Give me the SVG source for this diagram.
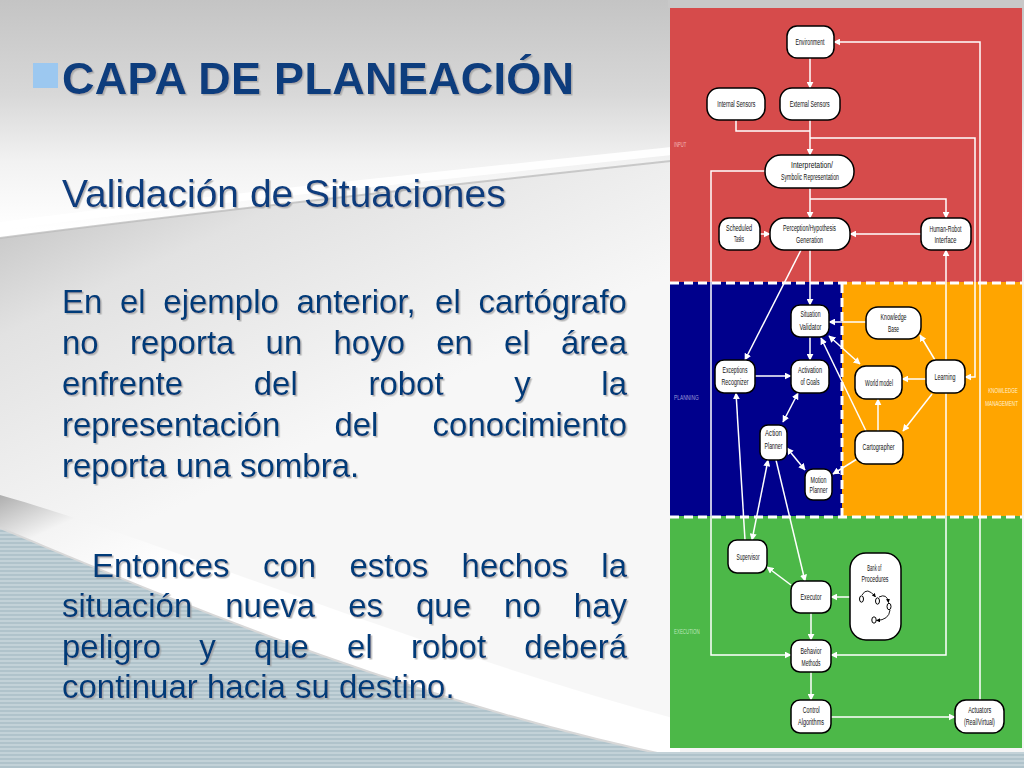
<svg xmlns="http://www.w3.org/2000/svg" width="1024" height="768" viewBox="0 0 1024 768">
<defs>
<style>
.nd{fill:#fff;stroke:#000;stroke-width:1.5}
.lb{font-family:"Liberation Sans",Arial,sans-serif;font-size:8.5px;fill:#111;text-anchor:middle}
.zl{font-family:"Liberation Sans",Arial,sans-serif;font-size:7px}
.cn{fill:none;stroke:#fff;stroke-width:1.5}
.dash{fill:none;stroke:#fff;stroke-width:3;stroke-dasharray:9 5}
.body{font-family:"Liberation Sans",Arial,sans-serif;font-size:33px;fill:#063a78}
.ttl{font-family:"Liberation Sans",Arial,sans-serif;fill:#0a3c7d}
</style>
<marker id="a" viewBox="0 0 10 10" refX="9" refY="5" markerWidth="7" markerHeight="7" markerUnits="userSpaceOnUse" orient="auto-start-reverse"><path d="M0,0 L10,5 L0,10 Z" fill="#fff"/></marker>
<marker id="ab" viewBox="0 0 10 10" refX="9" refY="5" markerWidth="4" markerHeight="4" markerUnits="userSpaceOnUse" orient="auto"><path d="M0,0 L10,5 L0,10 Z" fill="#000"/></marker>
<linearGradient id="gTop" x1="0" y1="0" x2="0" y2="1">
<stop offset="0" stop-color="#c4c4c4"/><stop offset="0.35" stop-color="#d8d8d8"/><stop offset="0.6" stop-color="#f2f2f2"/><stop offset="0.85" stop-color="#ffffff"/><stop offset="1" stop-color="#ffffff"/>
</linearGradient>
<linearGradient id="gMid" gradientUnits="userSpaceOnUse" x1="0" y1="200" x2="150" y2="520">
<stop offset="0" stop-color="#c2c2c2"/><stop offset="0.35" stop-color="#e2e2e2"/><stop offset="1" stop-color="#f7f7f7"/>
</linearGradient>
<linearGradient id="gSheet" gradientUnits="userSpaceOnUse" x1="0" y1="490" x2="60" y2="620">
<stop offset="0" stop-color="#a8a8a8"/><stop offset="0.4" stop-color="#f4f4f4"/><stop offset="1" stop-color="#ffffff"/>
</linearGradient>
<pattern id="stripes" width="8" height="4" patternUnits="userSpaceOnUse"><rect width="8" height="4" fill="#b0c3cb"/><rect width="8" height="2" fill="#c3d2d8"/></pattern>
<filter id="sh" x="-5%" y="-20%" width="110%" height="140%"><feDropShadow dx="1.5" dy="1.5" stdDeviation="0.6" flood-color="#9a9a9a" flood-opacity="0.7"/></filter>
</defs>

<g id="background">
<rect x="0" y="0" width="1024" height="768" fill="#f4f4f4"/>
<rect x="0" y="0" width="1024" height="270" fill="url(#gTop)"/>
<path d="M0,238 C200,212 420,188 680,160 L680,768 L0,768 Z" fill="url(#gMid)"/>
<path d="M0,226 C200,200 420,178 680,150" fill="none" stroke="#ffffff" stroke-width="8" stroke-opacity="0.9"/>
<path d="M0,238 C200,212 420,188 680,160" fill="none" stroke="#b8b8b8" stroke-width="2" stroke-opacity="0.7"/>
<path d="M0,495 C160,540 420,650 680,720 L680,768 L0,768 Z" fill="url(#gSheet)"/>
<path d="M0,528 C150,590 400,700 680,758 L680,768 L0,768 Z" fill="url(#stripes)"/>
<path d="M0,528 C150,590 400,700 680,758" fill="none" stroke="#d8d8d8" stroke-width="2"/>
<rect x="0" y="752" width="1024" height="16" fill="url(#stripes)"/>
<rect x="668" y="0" width="356" height="8" fill="#c8c8c8"/>
</g>

<g id="text-left">
<rect x="33" y="63" width="25" height="25" fill="#9cc8f0"/>
<text class="ttl" x="62" y="94" font-size="45" font-weight="bold" textLength="512" filter="url(#sh)">CAPA DE PLANEACIÓN</text>
<text class="ttl" x="62" y="207" font-size="39" filter="url(#sh)">Validación de Situaciones</text>
<g class="body" filter="url(#sh)">
<text y="313"><tspan x="62">En</tspan> <tspan x="120">el</tspan> <tspan x="163.3">ejemplo</tspan> <tspan x="296.5">anterior,</tspan> <tspan x="435.1">el</tspan> <tspan x="478.4">cartógrafo</tspan></text>
<text y="354"><tspan x="62">no</tspan> <tspan x="129.9">reporta</tspan> <tspan x="265.6">un</tspan> <tspan x="333.5">hoyo</tspan> <tspan x="436.2">en</tspan> <tspan x="504.1">el</tspan> <tspan x="561">área</tspan></text>
<text y="395"><tspan x="62">enfrente</tspan> <tspan x="253.7">del</tspan> <tspan x="368.4">robot</tspan> <tspan x="514.2">y</tspan> <tspan x="601.3">la</tspan></text>
<text y="436"><tspan x="62">representación</tspan> <tspan x="334.4">del</tspan> <tspan x="432.6">conocimiento</tspan></text>
<text x="62" y="477">reporta una sombra.</text>
<text y="577"><tspan x="92">Entonces</tspan> <tspan x="262.9">con</tspan> <tspan x="349.4">estos</tspan> <tspan x="461.6">hechos</tspan> <tspan x="601.3">la</tspan></text>
<text y="617"><tspan x="62">situación</tspan> <tspan x="225.2">nueva</tspan> <tspan x="348.2">es</tspan> <tspan x="416">que</tspan> <tspan x="504.1">no</tspan> <tspan x="573.8">hay</tspan></text>
<text y="658"><tspan x="62">peligro</tspan> <tspan x="199.2">y</tspan> <tspan x="253.9">que</tspan> <tspan x="347.1">el</tspan> <tspan x="410.9">robot</tspan> <tspan x="524.3">deberá</tspan></text>
<text x="62" y="698">continuar hacia su destino.</text>
</g>
</g>

<g id="regions">
<rect x="670" y="8" width="352" height="274" fill="#d64b4b"/>
<rect x="670" y="282" width="172" height="234" fill="#00008c"/>
<rect x="842" y="282" width="180" height="234" fill="#ffa500"/>
<rect x="670" y="516" width="352" height="232" fill="#4cb848"/>
<path class="dash" d="M670,283 H1022"/>
<path class="dash" d="M670,517 H1022"/>
<path class="dash" d="M842,284 V516" stroke-dasharray="7 4" stroke-width="2.5"/>
<text class="zl" x="674" y="146.5" fill="#f3b6b6" textLength="12.3" lengthAdjust="spacingAndGlyphs">INPUT</text>
<text class="zl" x="674" y="399.8" fill="#9a9ad8" textLength="24.7" lengthAdjust="spacingAndGlyphs">PLANNING</text>
<g transform="translate(1003,0) scale(0.7,1)" fill="#fff0d2" font-family="Liberation Sans, Arial, sans-serif" font-size="6.5" text-anchor="middle">
<text x="0" y="393.5">KNOWLEDGE</text>
<text x="-2" y="405.8">MANAGEMENT</text>
</g>
<text class="zl" x="674" y="634.2" fill="#bde6bb" textLength="25.7" lengthAdjust="spacingAndGlyphs">EXECUTION</text>
</g>

<g id="connectors">
<path class="cn" marker-end="url(#a)" d="M810,58 V88"/>
<path class="cn" d="M736,120 V131 H810"/>
<path class="cn" marker-end="url(#a)" d="M810,120 V155"/>
<path class="cn" marker-end="url(#a)" d="M810,138 H975 V377 H965"/>
<path class="cn" marker-end="url(#a)" d="M980,700 V42 H834"/>
<path class="cn" marker-end="url(#a)" d="M765,171 H711 V655 H791"/>
<path class="cn" marker-end="url(#a)" d="M810,188 V218"/>
<path class="cn" marker-end="url(#a)" d="M810,199 H946 V218"/>
<path class="cn" marker-end="url(#a)" d="M760,234 H770"/>
<path class="cn" marker-end="url(#a)" d="M921,234 H850"/>
<path class="cn" marker-start="url(#a)" marker-end="url(#a)" d="M831,655 H946 V250"/>
<path class="cn" marker-end="url(#a)" d="M801,250 L745,360"/>
<path class="cn" marker-end="url(#a)" d="M810,250 V305"/>
<path class="cn" marker-end="url(#a)" d="M866,322 H829"/>
<path class="cn" marker-end="url(#a)" d="M810,337 V360"/>
<path class="cn" marker-end="url(#a)" d="M755,376 H791"/>
<path class="cn" marker-start="url(#a)" marker-end="url(#a)" d="M829,336 L860,364"/>
<path class="cn" marker-end="url(#a)" d="M866,431 L821,338"/>
<path class="cn" marker-end="url(#a)" d="M926,379 H902"/>
<path class="cn" marker-end="url(#a)" d="M935,360 L920,335"/>
<path class="cn" marker-end="url(#a)" d="M932,394 L903,431"/>
<path class="cn" marker-end="url(#a)" d="M878,431 V399"/>
<path class="cn" marker-end="url(#a)" d="M857,459 L833,474"/>
<path class="cn" marker-start="url(#a)" marker-end="url(#a)" d="M798,393 L783,422"/>
<path class="cn" marker-start="url(#a)" marker-end="url(#a)" d="M787,448 L805,470"/>
<path class="cn" marker-end="url(#a)" d="M745,540 L736,393"/>
<path class="cn" marker-start="url(#a)" marker-end="url(#a)" d="M752,540 L768,460"/>
<path class="cn" marker-end="url(#a)" d="M776,460 L805,581"/>
<path class="cn" marker-end="url(#a)" d="M791,585 L767,567"/>
<path class="cn" marker-end="url(#a)" d="M850,597 H831"/>
<path class="cn" marker-end="url(#a)" d="M811,613 V640"/>
<path class="cn" marker-end="url(#a)" d="M811,672 V700"/>
<path class="cn" marker-end="url(#a)" d="M831,717 H955"/>
</g>

<g id="n-environment"><rect class="nd" x="787" y="26" width="47" height="32" rx="10"/><text class="lb" x="810" y="44.5" textLength="29" lengthAdjust="spacingAndGlyphs">Environment</text></g>
<g id="n-internal-sensors"><rect class="nd" x="707" y="88" width="58" height="32" rx="12"/><text class="lb" x="736.3" y="107" textLength="38" lengthAdjust="spacingAndGlyphs">Internal Sensors</text></g>
<g id="n-external-sensors"><rect class="nd" x="780" y="88" width="60" height="32" rx="12"/><text class="lb" x="809.7" y="107" textLength="40" lengthAdjust="spacingAndGlyphs">External Sensors</text></g>
<g id="n-interpretation"><rect class="nd" x="765" y="155" width="89" height="33" rx="16"/><text class="lb" x="812" y="168" textLength="42" lengthAdjust="spacingAndGlyphs">Interpretation/</text><text class="lb" x="810" y="180.2" textLength="58" lengthAdjust="spacingAndGlyphs">Symbolic Representation</text></g>
<g id="n-scheduled-tasks"><rect class="nd" x="719" y="218" width="41" height="32" rx="10"/><text class="lb" x="739" y="231.2" textLength="26" lengthAdjust="spacingAndGlyphs">Scheduled</text><text class="lb" x="739" y="242.2" textLength="10" lengthAdjust="spacingAndGlyphs">Tasks</text></g>
<g id="n-perception"><rect class="nd" x="770" y="218" width="80" height="32" rx="14"/><text class="lb" x="809.5" y="231" textLength="53" lengthAdjust="spacingAndGlyphs">Perception/Hypothesis</text><text class="lb" x="809.5" y="242.6" textLength="27" lengthAdjust="spacingAndGlyphs">Generation</text></g>
<g id="n-human-robot"><rect class="nd" x="921" y="218" width="50" height="32" rx="10"/><text class="lb" x="945.5" y="232" textLength="32" lengthAdjust="spacingAndGlyphs">Human-Robot</text><text class="lb" x="945.5" y="243" textLength="22" lengthAdjust="spacingAndGlyphs">Interface</text></g>
<g id="n-situation-validator"><rect class="nd" x="791" y="305" width="38" height="32" rx="9"/><text class="lb" x="810.5" y="317.2" textLength="20" lengthAdjust="spacingAndGlyphs">Situation</text><text class="lb" x="810.5" y="329.6" textLength="22" lengthAdjust="spacingAndGlyphs">Validator</text></g>
<g id="n-knowledge-base"><rect class="nd" x="866" y="307" width="55" height="32" rx="12"/><text class="lb" x="893.5" y="319.6" textLength="26" lengthAdjust="spacingAndGlyphs">Knowledge</text><text class="lb" x="893.5" y="331.9" textLength="11" lengthAdjust="spacingAndGlyphs">Base</text></g>
<g id="n-exceptions"><rect class="nd" x="715" y="360" width="40" height="33" rx="9"/><text class="lb" x="735" y="372.9" textLength="25" lengthAdjust="spacingAndGlyphs">Exceptions</text><text class="lb" x="735" y="384.6" textLength="27" lengthAdjust="spacingAndGlyphs">Recognizer</text></g>
<g id="n-activation"><rect class="nd" x="791" y="360" width="38" height="33" rx="9"/><text class="lb" x="810" y="372.9" textLength="24" lengthAdjust="spacingAndGlyphs">Activation</text><text class="lb" x="810" y="384.6" textLength="19" lengthAdjust="spacingAndGlyphs">of Goals</text></g>
<g id="n-world-model"><rect class="nd" x="855" y="366" width="47" height="33" rx="11"/><text class="lb" x="879" y="385.6" textLength="28" lengthAdjust="spacingAndGlyphs">World model</text></g>
<g id="n-learning"><rect class="nd" x="926" y="360" width="39" height="33" rx="10"/><text class="lb" x="945" y="380.2" textLength="21" lengthAdjust="spacingAndGlyphs">Learning</text></g>
<g id="n-action-planner"><rect class="nd" x="760" y="425" width="27" height="35" rx="8"/><text class="lb" x="773.5" y="436.2" textLength="17" lengthAdjust="spacingAndGlyphs">Action</text><text class="lb" x="773.5" y="448.6" textLength="18" lengthAdjust="spacingAndGlyphs">Planner</text></g>
<g id="n-cartographer"><rect class="nd" x="855" y="431" width="48" height="33" rx="11"/><text class="lb" x="878.5" y="449.6" textLength="32" lengthAdjust="spacingAndGlyphs">Cartographer</text></g>
<g id="n-motion-planner"><rect class="nd" x="805" y="469" width="27" height="31" rx="8"/><text class="lb" x="818.5" y="482.9" textLength="16" lengthAdjust="spacingAndGlyphs">Motion</text><text class="lb" x="818.5" y="492.9" textLength="18" lengthAdjust="spacingAndGlyphs">Planner</text></g>
<g id="n-supervisor"><rect class="nd" x="728" y="540" width="39" height="33" rx="9"/><text class="lb" x="748" y="559.6" textLength="23" lengthAdjust="spacingAndGlyphs">Supervisor</text></g>
<g id="n-executor"><rect class="nd" x="791" y="581" width="40" height="32" rx="9"/><text class="lb" x="811" y="600.2" textLength="21" lengthAdjust="spacingAndGlyphs">Executor</text></g>
<g id="n-bank"><rect class="nd" x="850" y="553" width="51" height="87" rx="16"/><text class="lb" x="874.3" y="571.2" textLength="14" lengthAdjust="spacingAndGlyphs">Bank of</text><text class="lb" x="875" y="582.2" textLength="27" lengthAdjust="spacingAndGlyphs">Procedures</text>
<g fill="#fff" stroke="#000" stroke-width="1"><ellipse cx="861.5" cy="599" rx="2" ry="3.2"/><ellipse cx="877.5" cy="601" rx="2" ry="3.2"/><ellipse cx="889" cy="606.5" rx="2" ry="3.2"/><ellipse cx="874" cy="620" rx="2.2" ry="3.2"/></g>
<g fill="none" stroke="#000" stroke-width="0.9"><path marker-end="url(#ab)" d="M862,595 Q867,586 875.5,597"/><path marker-end="url(#ab)" d="M879,597 Q887,593 888.5,602.5"/><path marker-end="url(#ab)" d="M890,610 Q889,620 876.5,620.5"/></g></g>
<g id="n-behavior"><rect class="nd" x="791" y="640" width="40" height="32" rx="9"/><text class="lb" x="811" y="653.5" textLength="21" lengthAdjust="spacingAndGlyphs">Behavior</text><text class="lb" x="811" y="665.5" textLength="19" lengthAdjust="spacingAndGlyphs">Methods</text></g>
<g id="n-control"><rect class="nd" x="791" y="700" width="40" height="33" rx="9"/><text class="lb" x="811.3" y="712.8" textLength="17" lengthAdjust="spacingAndGlyphs">Control</text><text class="lb" x="811" y="724.5" textLength="26" lengthAdjust="spacingAndGlyphs">Algorithms</text></g>
<g id="n-actuators"><rect class="nd" x="955" y="700" width="49" height="33" rx="11"/><text class="lb" x="979.7" y="712.8" textLength="23" lengthAdjust="spacingAndGlyphs">Actuators</text><text class="lb" x="979.4" y="724.5" textLength="31" lengthAdjust="spacingAndGlyphs">(Real/Virtual)</text></g>
</svg>
